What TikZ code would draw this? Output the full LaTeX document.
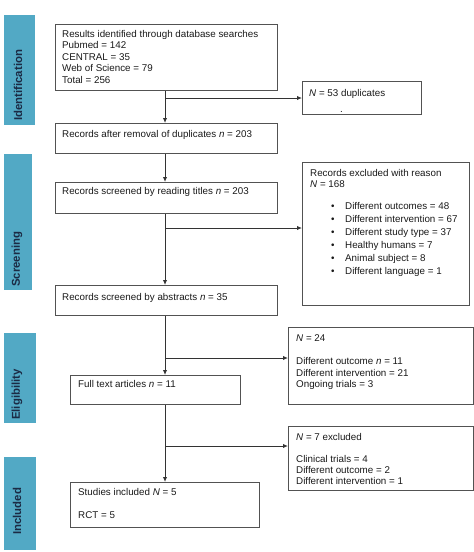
\documentclass[tikz,border=0pt]{standalone}
\usepackage{fontspec}
\setmainfont{Liberation Sans}
\usetikzlibrary{arrows.meta}
\definecolor{barblue}{HTML}{52A9C5}
\definecolor{bartext}{HTML}{1B2A44}
\definecolor{linegray}{HTML}{333333}
\begin{document}
\begin{tikzpicture}[x=1pt,y=-1pt,
  box/.style={draw=linegray!85,line width=1pt,inner sep=0pt,anchor=north west},
  txt/.style={inner sep=0pt,anchor=base west,font=\fontsize{9.8}{11.5}\selectfont,text=black!90},
  bar/.style={fill=barblue,draw=none,inner sep=0pt,anchor=north west},
  bartxt/.style={rotate=90,anchor=west,inner sep=0pt,font=\fontsize{11.4}{13}\selectfont\bfseries,text=bartext},
  arr/.style={draw=linegray,line width=1pt,-{Latex[length=5pt,width=4.5pt]}},
  ln/.style={draw=linegray,line width=1pt}]
\useasboundingbox (0,0) rectangle (474,552);
% phase bars
\node[bar,minimum width=31pt,minimum height=110pt] (p1) at (4,15) {};
\node[bar,minimum width=28pt,minimum height=136pt] (p2) at (4,154) {};
\node[bar,minimum width=32pt,minimum height=90pt] (p3) at (4,333) {};
\node[bar,minimum width=32pt,minimum height=93pt] (p4) at (4,457) {};
\node[bartxt] (t1) at (18,121) {Identification};
\node[bartxt] (t2) at (17,287) {Screening};
\node[bartxt] (t3) at (17,420) {Eligibility};
\node[bartxt] (t4) at (17,535) {Included};
% main boxes
\node[box,minimum width=222pt,minimum height=66pt] (b1) at (55,24) {};
\node[box,minimum width=222pt,minimum height=30pt] (b2) at (55,123) {};
\node[box,minimum width=222pt,minimum height=31pt] (b3) at (55,182) {};
\node[box,minimum width=222pt,minimum height=30pt] (b4) at (55,285) {};
\node[box,minimum width=170pt,minimum height=29pt] (b5) at (70,375) {};
\node[box,minimum width=189pt,minimum height=45pt] (b6) at (70,482) {};
% side boxes
\node[box,minimum width=119pt,minimum height=33pt] (s1) at (302,81) {};
\node[box,minimum width=167pt,minimum height=143pt] (s2) at (302,162) {};
\node[box,minimum width=185pt,minimum height=77pt] (s3) at (288,327) {};
\node[box,minimum width=185pt,minimum height=64pt] (s4) at (288,426) {};
% texts
\node[txt] (x1a) at (62,37) {Results identified through database searches};
\node[txt] (x1b) at (62,48.5) {Pubmed = 142};
\node[txt] (x1c) at (62,60) {CENTRAL = 35};
\node[txt] (x1d) at (62,71.5) {Web of Science = 79};
\node[txt] (x1e) at (62,83) {Total = 256};
\node[txt] (x2) at (62,137) {Records after removal of duplicates \textit{n} = 203};
\node[txt] (x3) at (62,194) {Records screened by reading titles \textit{n} = 203};
\node[txt] (x4) at (62,300) {Records screened by abstracts \textit{n} = 35};
\node[txt] (x5) at (78,387) {Full text articles \textit{n} = 11};
\node[txt] (x6a) at (78,495) {Studies included \textit{N} = 5};
\node[txt] (x6b) at (78,518) {RCT = 5};
\node[txt] (y1a) at (309,96) {\textit{N} = 53 duplicates};
\node[txt] (y1b) at (340,112) {.};
\node[txt] (y2a) at (310,176) {Records excluded with reason};
\node[txt] (y2b) at (310,187) {\textit{N} = 168};
\foreach \i/\t [count=\k] in {209/Different outcomes = 48,222/Different intervention = 67,235/Different study type = 37,248/Healthy humans = 7,261/Animal subject = 8,274/Different language = 1}{
  \node[txt] (bu\k) at (331,\i) {•};
  \node[txt] (li\k) at (345,\i) {\t};
}
\node[txt] (y3a) at (296,341) {\textit{N} = 24};
\node[txt] (y3b) at (296,364) {Different outcome \textit{n} = 11};
\node[txt] (y3c) at (296,376) {Different intervention = 21};
\node[txt] (y3d) at (296,387) {Ongoing trials = 3};
\node[txt] (y4a) at (296,440) {\textit{N} = 7 excluded};
\node[txt] (y4b) at (296,462) {Clinical trials = 4};
\node[txt] (y4c) at (296,473) {Different outcome = 2};
\node[txt] (y4d) at (296,484) {Different intervention = 1};
% connectors
\coordinate (j1) at (165,98);
\coordinate (j2) at (165,228);
\coordinate (j3) at (165,358);
\coordinate (j4) at (165,446);
\draw[arr] (b1.south -| j1) -- (b2.north -| j1);
\draw[arr] (b2.south -| j1) -- (b3.north -| j1);
\draw[arr] (b3.south -| j1) -- (b4.north -| j1);
\draw[arr] (b4.south -| j1) -- (b5.north -| j1);
\draw[arr] (b5.south -| j1) -- (b6.north -| j1);
\draw[arr] (j1) -- (j1 -| s1.west);
\draw[arr] (j2) -- (j2 -| s2.west);
\draw[arr] (j3) -- (j3 -| s3.west);
\draw[arr] (j4) -- (j4 -| s4.west);
\end{tikzpicture}
\end{document}
